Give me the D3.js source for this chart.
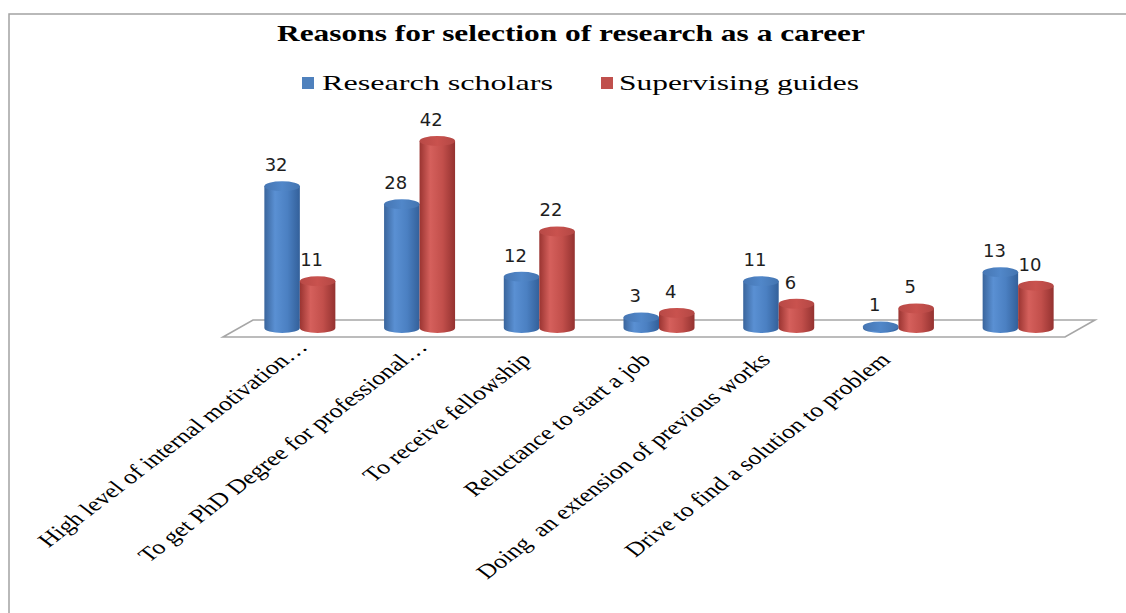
<!DOCTYPE html>
<html><head><meta charset="utf-8">
<script src="https://cdn.jsdelivr.net/npm/d3@7"></script>
<style>html,body{margin:0;padding:0;background:#fff;}svg{display:block;}</style>
</head><body>
<script>
const categories = [
  "High level of internal motivation…",
  "To get PhD Degree for professional…",
  "To receive fellowship",
  "Reluctance to start a job",
  "Doing  an extension of previous works",
  "Drive to find a solution to problem",
  ""
];
const seriesNames = ["Research scholars", "Supervising guides"];
const researchScholars = [32, 28, 12, 3, 11, 1, 13];
const supervisingGuides = [11, 42, 22, 4, 6, 5, 10];
const titleText = "Reasons for selection of research as a career";

const W = 1126, H = 613;
const svg = d3.select("body").append("svg").attr("width", W).attr("height", H);

// chart border
svg.append("rect").attr("x", 9).attr("y", 14).attr("width", 1200).attr("height", 700)
  .attr("fill", "#fff").attr("stroke", "#a3a3a3").attr("stroke-width", 1.5);

// gradients
const defs = svg.append("defs");
function grad(id, stops) {
  const g = defs.append("linearGradient").attr("id", id).attr("x1", "0%").attr("x2", "100%").attr("y1", "0%").attr("y2", "0%");
  stops.forEach(s => g.append("stop").attr("offset", s[0]).attr("stop-color", s[1]));
}
grad("gBlue", [["0%", "#3a659c"], ["30%", "#5a90d3"], ["65%", "#4b80c2"], ["100%", "#33609a"]]);
grad("gBlueTop", [["0%", "#4676b3"], ["50%", "#5187c9"], ["100%", "#4374b0"]]);
grad("gRed", [["0%", "#9a3431"], ["30%", "#d5605c"], ["65%", "#c24f4b"], ["100%", "#943230"]]);
grad("gRedTop", [["0%", "#b84946"], ["50%", "#c9524e"], ["100%", "#b34744"]]);
const fills = [["url(#gBlue)", "url(#gBlueTop)"], ["url(#gRed)", "url(#gRedTop)"]];

// title
svg.append("text").attr("x", 277).attr("y", 41)
  .attr("font-family", "'Liberation Serif', 'Times New Roman', serif")
  .attr("font-weight", "bold").attr("font-size", 23).attr("fill", "#000")
  .attr("textLength", 588).attr("lengthAdjust", "spacingAndGlyphs")
  .text(titleText);

// legend
const legendItems = [
  {name: seriesNames[0], color: "#4f81bd", sx: 302, tx: 322, tl: 231},
  {name: seriesNames[1], color: "#c0504d", sx: 601, tx: 619, tl: 240}
];
legendItems.forEach(l => {
  svg.append("rect").attr("x", l.sx).attr("y", 77).attr("width", 12).attr("height", 12).attr("fill", l.color);
  svg.append("text").attr("x", l.tx).attr("y", 90)
    .attr("font-family", "'Liberation Serif', 'Times New Roman', serif")
    .attr("font-size", 22).attr("fill", "#000")
    .attr("textLength", l.tl).attr("lengthAdjust", "spacingAndGlyphs")
    .text(l.name);
});

// floor
const floorBackY = 320, floorFrontY = 337, depthX = 30;
svg.append("path")
  .attr("d", `M${223 + depthX},${floorBackY} L1095,${floorBackY} L1065,${floorFrontY} L223,${floorFrontY} Z`)
  .attr("fill", "#fff").attr("stroke", "#a6a6a6").attr("stroke-width", 1.6);

// scales
const x = d3.scaleBand().domain(d3.range(categories.length)).range([240, 1078]).padding(0);
const barW = 35.5;
const xs = d3.scaleBand().domain([0, 1]).range([-barW, barW]);
const y = d3.scaleLinear().domain([0, 42]).range([331, 141]);
const baseY = 328, rx = barW / 2, ry = 5;

const data = [];
categories.forEach((c, i) => {
  [researchScholars[i], supervisingGuides[i]].forEach((v, s) => {
    data.push({i, s, v, cx: x(i) + x.bandwidth() / 2 + xs(s) + xs.bandwidth() / 2});
  });
});

const bars = svg.append("g").selectAll("g").data(data).join("g");
bars.append("path")
  .attr("d", d => {
    const l = d.cx - rx, r = d.cx + rx, t = y(d.v);
    return `M${l},${t} L${l},${baseY} A${rx},${ry} 0 0 0 ${r},${baseY} L${r},${t} Z`;
  })
  .attr("fill", d => fills[d.s][0]);
bars.append("ellipse")
  .attr("cx", d => d.cx).attr("cy", d => y(d.v)).attr("rx", rx).attr("ry", ry)
  .attr("fill", d => fills[d.s][1]);

// value labels
svg.append("g").selectAll("text").data(data).join("text")
  .attr("x", d => d.cx - 6).attr("y", d => y(d.v) - 15)
  .attr("text-anchor", "middle")
  .attr("font-family", "'DejaVu Sans', Verdana, sans-serif")
  .attr("font-size", 18).attr("fill", "#1e1e1e")
  .text(d => d.v);

// category labels (rotated, horizontally stretched like the reference)
svg.append("g").selectAll("text").data(categories.map((c, i) => ({c, i}))).join("text")
  .attr("transform", d => {
    const cx = x(d.i) + x.bandwidth() / 2;
    const trunc = d.c.endsWith("…");
    const px = trunc ? cx + 9 : cx - 7;
    const py = trunc ? 348 : 361;
    return `translate(${px},${py}) scale(1.3,1) rotate(-45)`;
  })
  .attr("text-anchor", "end")
  .style("white-space", "pre")
  .attr("font-family", "'Liberation Serif', 'Times New Roman', serif")
  .attr("font-size", 20).attr("fill", "#000")
  .text(d => d.c);
</script>
</body></html>
